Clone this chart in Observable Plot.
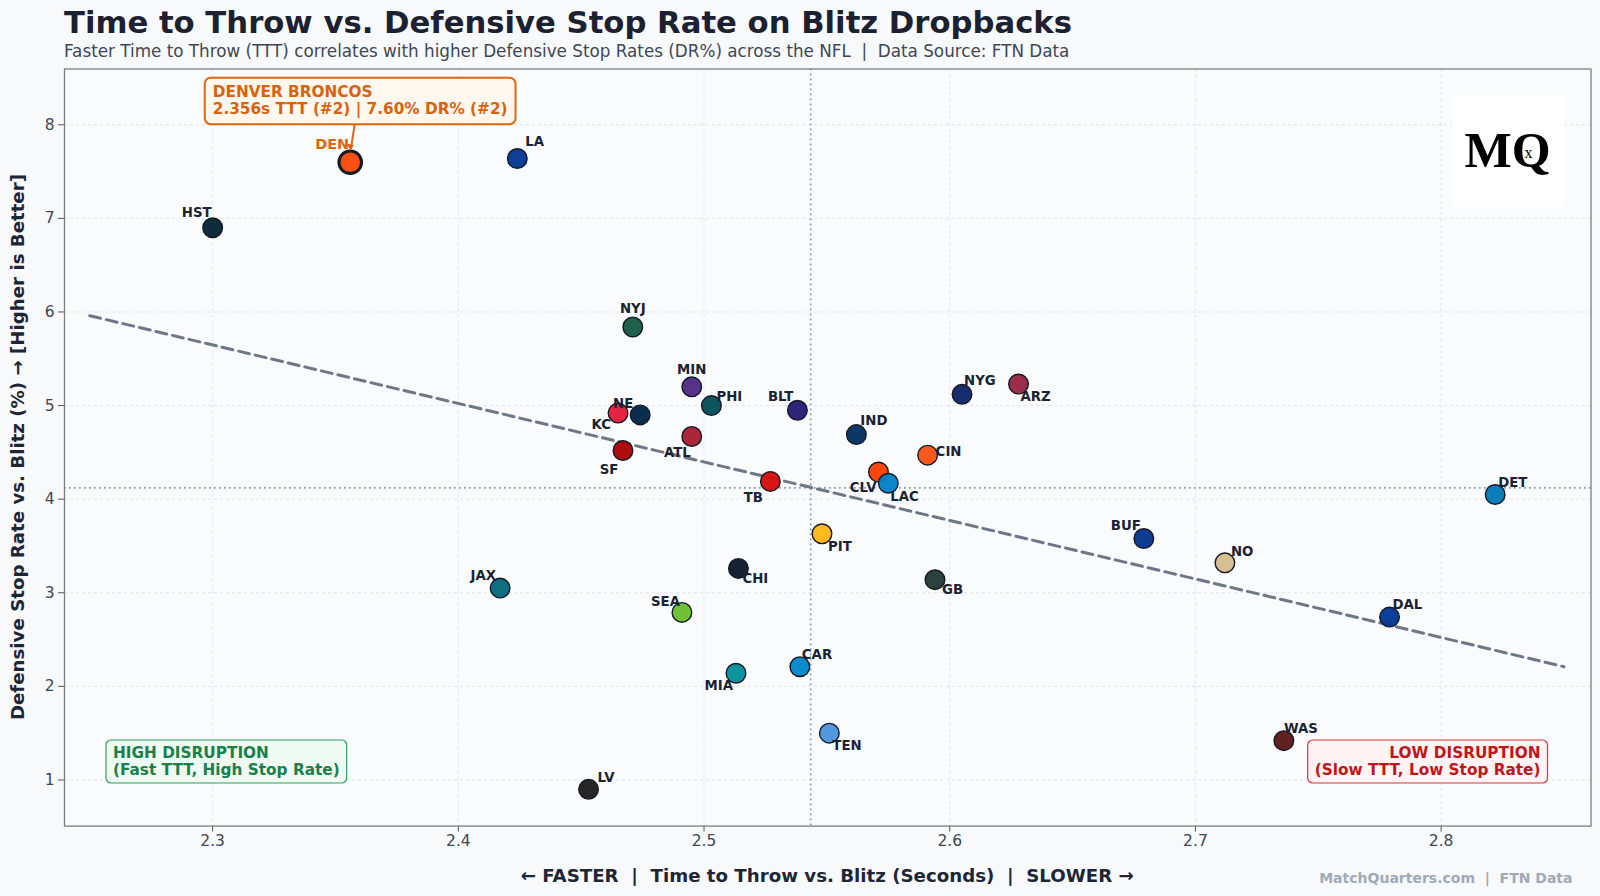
<!DOCTYPE html>
<html><head><meta charset="utf-8">
<script src="https://cdn.jsdelivr.net/npm/d3@7"></script>
<script src="https://cdn.jsdelivr.net/npm/@observablehq/plot@0.6"></script>
<style>
body{margin:0;background:#f8f9fa;width:1600px;height:896px;overflow:hidden;font-family:"DejaVu Sans",sans-serif;}
#head{position:relative;height:60px;}
#title{position:absolute;left:64px;top:8px;font-size:30.7px;font-weight:bold;color:#1b2130;line-height:1;white-space:pre}
#subtitle{position:absolute;left:64px;top:43px;font-size:16.8px;color:#3d4757;line-height:1;white-space:pre}
#chart svg{display:block}
</style></head>
<body>
<div id="head">
<div id="title">Time to Throw vs. Defensive Stop Rate on Blitz Dropbacks</div>
<div id="subtitle">Faster Time to Throw (TTT) correlates with higher Defensive Stop Rates (DR%) across the NFL  |  Data Source: FTN Data</div>
</div>
<div id="chart"></div>
<script>
// ---------------- data ----------------
const teams = ["DEN","LA","HST","NYJ","MIN","PHI","BLT","KC","NE","ATL","SF","TB","IND","CIN","CLV","LAC","NYG","ARZ","DET","BUF","NO","DAL","WAS","PIT","CHI","GB","JAX","SEA","MIA","CAR","TEN","LV"];
const ttt = [2.356,2.424,2.300,2.471,2.495,2.503,2.538,2.465,2.474,2.495,2.467,2.527,2.562,2.591,2.571,2.575,2.605,2.628,2.822,2.679,2.712,2.779,2.736,2.548,2.514,2.594,2.417,2.491,2.513,2.539,2.551,2.453];
const stopRate = [7.60,7.64,6.90,5.84,5.20,5.00,4.95,4.92,4.90,4.67,4.52,4.19,4.69,4.47,4.29,4.17,5.12,5.23,4.05,3.58,3.32,2.74,1.42,3.63,3.26,3.14,3.05,2.79,2.14,2.21,1.50,0.90];
const teamColors = ["#FB4F14","#003594","#03202F","#125740","#4F2683","#004C54","#241773","#E31837","#002244","#A71930","#AA0000","#D50A0A","#002C5F","#FB4F14","#FF3C00","#0080C6","#0B2265","#97233F","#0076B6","#00338D","#D3BC8D","#003594","#5A1414","#FFB612","#0B162A","#203731","#006778","#69BE28","#008E97","#0085CA","#4B92DB","#1a1a1a"];
const xTicks = [2.3,2.4,2.5,2.6,2.7,2.8];
const xTickLabels = ["2.3","2.4","2.5","2.6","2.7","2.8"];
const yTicks = [1,2,3,4,5,6,7,8];
const yTickLabels = ["1","2","3","4","5","6","7","8"];
const meanTTT = 2.5434;
const meanDR = 4.12;
const trendX = [2.25, 2.85];
const trendY = [5.96, 2.21];
const highlightTeam = "DEN";
const annotationLines = ["DENVER BRONCOS","2.356s TTT (#2) | 7.60% DR% (#2)"];

// label placement (layout only): [dx, dy, anchor]
const labelPlacement = {
  DEN:[-1,-18,"end"], LA:[8,-17,"start"], HST:[-1,-15,"end"], NYJ:[0,-18,"middle"], MIN:[0,-17,"middle"],
  PHI:[5,-9,"start"], BLT:[-4,-14,"end"], KC:[-7,12,"end"], NE:[-17,-11,"middle"], ATL:[-1,16,"end"],
  SF:[-14,19,"middle"], TB:[-17,16,"middle"], IND:[4,-14,"start"], CIN:[8,-3,"start"], CLV:[-2,16,"end"],
  LAC:[2,13,"start"], NYG:[2,-14,"start"], ARZ:[2,13,"start"], DET:[3,-12,"start"], BUF:[-3,-13,"end"],
  NO:[6,-11,"start"], DAL:[3,-12,"start"], WAS:[0,-12,"start"], PIT:[6,13,"start"], CHI:[4,10,"start"],
  GB:[7,10,"start"], JAX:[-4,-12,"end"], SEA:[-2,-11,"end"], MIA:[-3,12,"end"], CAR:[2,-12,"start"],
  TEN:[3,13,"start"], LV:[9,-12,"start"]
};

const data = teams.map((t,i)=>({team:t, x:ttt[i], y:stopRate[i], color:teamColors[i]}));
const trend = trendX.map((x,i)=>({x, y:trendY[i]}));
const others = data.filter(d=>d.team!==highlightTeam);
const hl = data.filter(d=>d.team===highlightTeam);

const W=1600, H=836, mL=64, mR=9.5, mT=8.5, mB=70.4;
const ink = "#1b2333";

const labelMarks = others.map(d=>{
  const [dx,dy,anchor] = labelPlacement[d.team];
  return Plot.text([d],{x:"x",y:"y",text:"team",dx,dy,textAnchor:anchor,fill:ink,fontWeight:"bold",fontSize:13.3});
});
const hlLabel = hl.map(d=>{
  const [dx,dy,anchor] = labelPlacement[d.team];
  return Plot.text([d],{x:"x",y:"y",text:"team",dx,dy,textAnchor:anchor,fill:"#e0650f",fontWeight:"bold",fontSize:14.5});
});

const chart = Plot.plot({
  width:W, height:H, marginLeft:mL, marginRight:mR, marginTop:mT, marginBottom:mB,
  style:{background:"transparent", fontFamily:"DejaVu Sans", fontSize:"15px", color:"#3d4757", overflow:"visible"},
  x:{domain:[2.2397,2.861], label:null},
  y:{domain:[0.507,8.596], label:null},
  color:{type:"identity"},
  marks:[
    Plot.frame({fill:"#fafbfc"}),
    Plot.gridX(xTicks,{stroke:"#d5dae0", strokeOpacity:0.7, strokeDasharray:"3,3"}),
    Plot.gridY(yTicks,{stroke:"#d5dae0", strokeOpacity:0.7, strokeDasharray:"3,3"}),
    Plot.ruleX([meanTTT],{stroke:"#7f98b3", strokeWidth:1.7, strokeDasharray:"1.7,3.3"}),
    Plot.ruleY([meanDR],{stroke:"#7f98b3", strokeWidth:1.7, strokeDasharray:"1.7,3.3"}),
    Plot.line(trend,{x:"x", y:"y", stroke:"#6f7686", strokeWidth:3, strokeDasharray:"11,6"}),
    Plot.dot(others,{x:"x", y:"y", r:9.8, fill:"color", fillOpacity:0.95, stroke:"#141a26", strokeWidth:1.4}),
    Plot.dot(hl,{x:"x", y:"y", r:11.3, fill:"color", stroke:"#141a26", strokeWidth:3}),
    ...labelMarks,
    ...hlLabel,
    Plot.axisX({ticks:xTicks, tickFormat:(d,i)=>xTickLabels[i], tickSize:6, tickPadding:3, stroke:"#555", fill:"#3d4757", fontSize:15.5, label:null}),
    Plot.axisY({ticks:yTicks, tickFormat:(d,i)=>yTickLabels[i], tickSize:6, tickPadding:4, stroke:"#555", fill:"#3d4757", fontSize:15.5, label:null}),
    Plot.frame({stroke:"#7d7d7d", strokeWidth:1.3})
  ]
});
document.getElementById("chart").appendChild(chart);

const svg = d3.select(chart);
const sx = chart.scale("x"), sy = chart.scale("y");
const fl = mL, fr = W-mR, ft = mT, fb = H-mB;

// Annotation for highlighted team
const den = hl[0];
const px = sx.apply(den.x), py = sy.apply(den.y);
const ann = svg.append("g");
const annText = ann.append("text").attr("font-family","DejaVu Sans").attr("font-weight","bold").attr("font-size",15.3)
  .attr("fill","#d9620f").attr("text-anchor","start");
annText.append("tspan").attr("x",px-137).attr("y",py-70).attr("dominant-baseline","central").text(annotationLines[0]);
annText.append("tspan").attr("x",px-137).attr("y",py-52.5).attr("dominant-baseline","central").text(annotationLines[1]);
let bb = annText.node().getBBox();
ann.insert("rect","text").attr("x",bb.x-8).attr("y",bb.y-5).attr("width",bb.width+16).attr("height",bb.height+10)
  .attr("rx",6).attr("fill","#fff8ee").attr("stroke","#e0650f").attr("stroke-width",2);
const boxBottom = bb.y+bb.height+5;
ann.append("line").attr("x1",px+5).attr("y1",boxBottom).attr("x2",px+1).attr("y2",py-12).attr("stroke","#e0650f").attr("stroke-width",2);
ann.append("path").attr("d",`M${px-3},${py-18} L${px+1},${py-11} L${px+4},${py-17} Z`).attr("fill","#e0650f");

// Quadrant boxes
function qbox(lines, anchorSide, color, fill, border){
  const g = svg.append("g");
  const t = g.append("text").attr("font-family","DejaVu Sans").attr("font-weight","bold").attr("font-size",15.3).attr("fill",color)
    .attr("text-anchor", anchorSide==="left"?"start":"end");
  const x = anchorSide==="left" ? fl+49 : fr-50;
  t.append("tspan").attr("x",x).attr("y",fb-72.6).attr("dominant-baseline","central").text(lines[0]);
  t.append("tspan").attr("x",x).attr("y",fb-55.6).attr("dominant-baseline","central").text(lines[1]);
  const b = t.node().getBBox();
  g.insert("rect","text").attr("x",b.x-7).attr("y",b.y-4).attr("width",b.width+14).attr("height",b.height+8)
    .attr("rx",5).attr("fill",fill).attr("stroke",border).attr("stroke-width",1.2);
}
qbox(["HIGH DISRUPTION","(Fast TTT, High Stop Rate)"],"left","#1a7f4b","#effaf3","#2a9d61");
qbox(["LOW DISRUPTION","(Slow TTT, Low Stop Rate)"],"right","#c0161b","#fff3f3","#d9343a");

// Logo (single text element with the small x set inside the Q)
const logo = svg.append("g");
logo.append("rect").attr("x",fr-138.5).attr("y",ft+26.5).attr("width",112).attr("height",112).attr("fill","#ffffff");
const lt = logo.append("text").attr("x",fr-126).attr("y",ft+98).attr("text-anchor","start")
  .attr("font-family","Liberation Serif, DejaVu Serif, serif").attr("fill","#000");
lt.append("tspan").attr("font-weight","bold").attr("font-size",50).text("MQ");
lt.append("tspan").attr("font-size",16).attr("dx",-26).attr("dy",-9).text("x");

// Axis titles
svg.append("text").attr("transform",`translate(17.5,${(ft+fb)/2}) rotate(-90)`).attr("text-anchor","middle").attr("dominant-baseline","central")
  .attr("font-family","DejaVu Sans").attr("font-weight","bold").attr("font-size",18.2).attr("fill","#1e2636")
  .text("Defensive Stop Rate vs. Blitz (%) → [Higher is Better]");
svg.append("text").attr("x",(fl+fr)/2).attr("y",815.5).attr("text-anchor","middle").attr("dominant-baseline","central")
  .attr("font-family","DejaVu Sans").attr("font-weight","bold").attr("font-size",18.2).attr("fill","#1e2636").style("white-space","pre")
  .text("← FASTER  |  Time to Throw vs. Blitz (Seconds)  |  SLOWER →");
svg.append("text").attr("x",1572.5).attr("y",817.5).attr("text-anchor","end").attr("dominant-baseline","central")
  .attr("font-family","DejaVu Sans").attr("font-weight","bold").attr("font-size",14).attr("fill","#a0aab8").style("white-space","pre")
  .text("MatchQuarters.com  |  FTN Data");
</script>
</body></html>
